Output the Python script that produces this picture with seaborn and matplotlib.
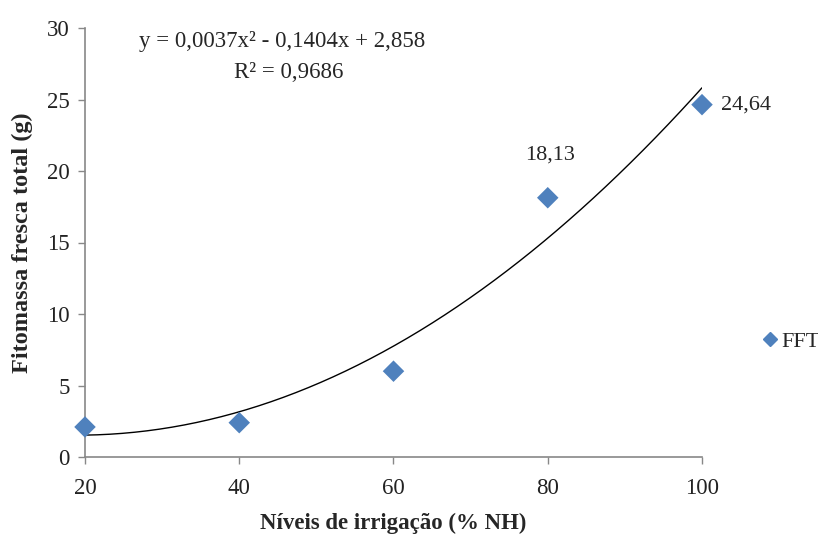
import matplotlib
matplotlib.use("Agg")
import matplotlib.pyplot as plt
import numpy as np
import pandas as pd
import seaborn as sns

# data
niveis = [20, 40, 60, 80, 100]
fft = [2.1, 2.4, 6.0, 18.13, 24.64]
# fitted trend line coefficients (shown in the chart)
coef = [0.0037, -0.1404, 2.858]

sns.set_theme(style="white")
plt.rcParams['font.family'] = ['Liberation Serif', 'DejaVu Serif']

df = pd.DataFrame({"x": niveis, "y": fft})
xs = np.linspace(20, 100, 200)
trend = pd.DataFrame({"x": xs, "y": np.polyval(coef, xs)})

fig = plt.figure(figsize=(8.18, 5.43), dpi=100)
ax = fig.add_axes([85 / 818, 1 - 457 / 543, (702 - 85) / 818, (457 - 28) / 543])

sns.lineplot(data=trend, x="x", y="y", ax=ax, color="black", linewidth=1.0, legend=False)
sns.scatterplot(data=df, x="x", y="y", ax=ax, marker="D", s=120, color="#4F81BD",
                edgecolor="none", zorder=3, clip_on=False)

ax.set_xlim(20, 100)
ax.set_ylim(0, 30)
ax.set_xticks([20, 40, 60, 80, 100])
ax.set_yticks([0, 5, 10, 15, 20, 25, 30])
ax.tick_params(axis="both", labelsize=16.5, length=5, width=1, direction="out",
               bottom=True, left=True, colors="#888888", labelcolor="#222222")
ax.tick_params(axis="x", pad=10)
ax.tick_params(axis="y", pad=6)
for s in ["top", "right"]:
    ax.spines[s].set_visible(False)
for s in ["left", "bottom"]:
    ax.spines[s].set_color("#888888")
    ax.spines[s].set_linewidth(1.2)

ax.set_xlabel("Níveis de irrigação (% NH)", fontsize=16.5, fontweight="bold", labelpad=10)
ax.set_ylabel("Fitomassa fresca total (g)", fontsize=17.5, fontweight="bold", labelpad=10)

# data labels
ax.annotate("18,13", (niveis[3], fft[3]), xytext=(2, 31), textcoords="offset points",
            ha="center", va="center", fontsize=16)
ax.annotate("24,64", (niveis[4], fft[4]), xytext=(14, 0), textcoords="offset points",
            ha="left", va="center", fontsize=16)

# equation
ax.text((282 - 85) / 617, 1 - (42 - 28) / 429, "y = 0,0037x² - 0,1404x + 2,858",
        transform=ax.transAxes, ha="center", va="center", fontsize=16.5)
ax.text((289 - 85) / 617, 1 - (73 - 28) / 429, "R² = 0,9686",
        transform=ax.transAxes, ha="center", va="center", fontsize=16.5)

# legend
fig.legend(handles=[plt.Line2D([], [], marker="D", color="#4F81BD", linestyle="none",
                               markersize=7)],
           labels=["FFT"], loc="center left", bbox_to_anchor=(750 / 818, 1 - 342 / 543),
           frameon=False, fontsize=16, handletextpad=0.0, handlelength=1.0, borderaxespad=0)

fig.savefig("out.png", dpi=100)
